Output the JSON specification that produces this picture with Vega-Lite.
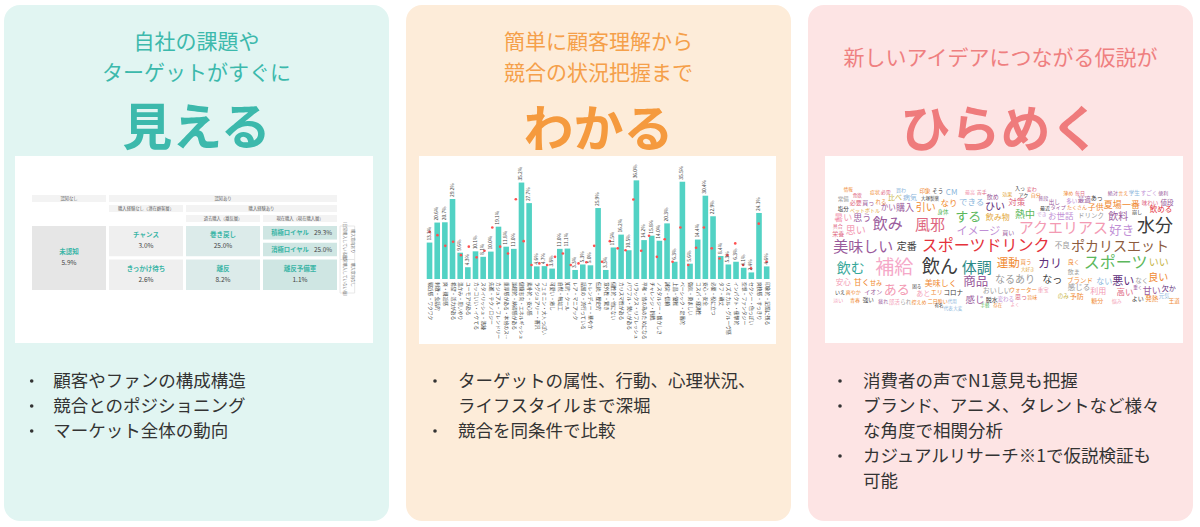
{
"$schema": "https://vega.github.io/schema/vega-lite/v6.json",
"background": "white",
"padding": {"left": 4, "top": 5, "right": 0, "bottom": 0},
"spacing": 17,
"config": {
  "view": {"stroke": null},
  "font": "Noto Sans CJK JP",
  "text": {"font": "Noto Sans CJK JP"},
  "title": {"anchor": "middle", "frame": "group", "orient": "top", "fontSize": 21, "fontWeight": "normal", "lineHeight": 31, "subtitleFontSize": 50, "subtitleFontWeight": "bold", "font": "Noto Sans CJK JP", "subtitleFont": "Noto Sans CJK JP"}
},
"datasets": {
  "frame": [{"part": "image"}],
  "hdr1": [
    {"h": "認知なし", "c0": 0, "c1": 1, "r0": 0, "r1": 1, "cx": 0.5},
    {"h": "認知あり", "c0": 1, "c1": 4, "r0": 0, "r1": 1, "cx": 2.5},
    {"h": "購入経験なし（潜在顧客層）", "c0": 1, "c1": 2, "r0": 1, "r1": 2, "cx": 1.5},
    {"h": "購入経験あり", "c0": 2, "c1": 4, "r0": 1, "r1": 2, "cx": 3},
    {"h": "過去購入（離反層）", "c0": 2, "c1": 3, "r0": 2, "r1": 3, "cx": 2.5},
    {"h": "現在購入（現在購入層）", "c0": 3, "c1": 4, "r0": 2, "r1": 3, "cx": 3.5}
  ],
  "seg1": [
    {"seg": "未認知", "share": 0.059, "c0": 0, "c1": 1, "r0": 0, "r1": 2, "cx": 0.5, "cy": 1, "tone": "unaware", "inline": false},
    {"seg": "チャンス", "share": 0.030, "c0": 1, "c1": 2, "r0": 0, "r1": 1, "cx": 1.5, "cy": 0.5, "tone": "potential", "inline": false},
    {"seg": "きっかけ待ち", "share": 0.026, "c0": 1, "c1": 2, "r0": 1, "r1": 2, "cx": 1.5, "cy": 1.5, "tone": "potential", "inline": false},
    {"seg": "巻き戻し", "share": 0.250, "c0": 2, "c1": 3, "r0": 0, "r1": 1, "cx": 2.5, "cy": 0.5, "tone": "lapsed", "inline": false},
    {"seg": "離反", "share": 0.082, "c0": 2, "c1": 3, "r0": 1, "r1": 2, "cx": 2.5, "cy": 1.5, "tone": "lapsed", "inline": false},
    {"seg": "積極ロイヤル", "share": 0.293, "c0": 3, "c1": 4, "r0": 0, "r1": 0.5, "cx": 3.5, "cy": 0.25, "tone": "current", "inline": true},
    {"seg": "消極ロイヤル", "share": 0.250, "c0": 3, "c1": 4, "r0": 0.5, "r1": 1, "cx": 3.5, "cy": 0.75, "tone": "current", "inline": true},
    {"seg": "離反予備軍", "share": 0.011, "c0": 3, "c1": 4, "r0": 1, "r1": 2, "cx": 3.5, "cy": 1.5, "tone": "current", "inline": false}
  ],
  "intent1": [
    {"c0": 4.02, "c1": 4.21, "r0": 0, "r1": 1},
    {"c0": 4.02, "c1": 4.21, "r0": 1, "r1": 2}
  ],
  "intentText1": [
    {"t": "購入意向あり", "cx": 4.17, "cy": 0.5},
    {"t": "（日常購入している層）", "cx": 4.075, "cy": 0.5},
    {"t": "購入意向なし", "cx": 4.17, "cy": 1.5},
    {"t": "（日常購入していない層）", "cx": 4.075, "cy": 1.5}
  ],
  "bul1": [
    {"line": 0, "bullet": true, "text": "顧客やファンの構成構造"},
    {"line": 1, "bullet": true, "text": "競合とのポジショニング"},
    {"line": 2, "bullet": true, "text": "マーケット全体の動向"}
  ],
  "bul2": [
    {"line": 0, "bullet": true, "text": "ターゲットの属性、行動、心理状況、"},
    {"line": 1, "bullet": false, "text": "ライフスタイルまで深堀"},
    {"line": 2, "bullet": true, "text": "競合を同条件で比較"}
  ],
  "bul3": [
    {"line": 0, "bullet": true, "text": "消費者の声でN1意見も把握"},
    {"line": 1, "bullet": true, "text": "ブランド、アニメ、タレントなど様々"},
    {"line": 2, "bullet": false, "text": "な角度で相関分析"},
    {"line": 3, "bullet": true, "text": "カジュアルリサーチ※1で仮説検証も"},
    {"line": 4, "bullet": false, "text": "可能"}
  ],
  "bars": [
    {"cat": "親近感・ワクワク", "pct": 0.133, "avg": 0.172},
    {"cat": "刺激・会話的", "pct": 0.206, "avg": 0.160},
    {"cat": "爽・親近感", "pct": 0.207, "avg": 0.121},
    {"cat": "希望・活力がある", "pct": 0.292, "avg": 0.136},
    {"cat": "温かみ・思いやり", "pct": 0.096, "avg": 0.087},
    {"cat": "ユーモアがある", "pct": 0.043, "avg": null},
    {"cat": "カッコいい・イケてる", "pct": 0.101, "avg": 0.118},
    {"cat": "スタイリッシュ・洗練", "pct": 0.081, "avg": 0.079},
    {"cat": "先進・テクノロジー", "pct": 0.100, "avg": 0.103},
    {"cat": "カジュアル・フレンドリー", "pct": 0.191, "avg": 0.188},
    {"cat": "重厚感がある・本格のスピリッツ", "pct": 0.118, "avg": 0.118},
    {"cat": "論理的・納得感がある", "pct": 0.110, "avg": 0.093},
    {"cat": "健康志向・エネルギッシュ", "pct": 0.352, "avg": 0.291},
    {"cat": "素朴的・安心感", "pct": 0.277, "avg": 0.138},
    {"cat": "ラグジュアリー・贅沢", "pct": 0.046, "avg": 0.051},
    {"cat": "フェミニン・大人っぽい", "pct": 0.047, "avg": 0.057},
    {"cat": "可愛い・癒し", "pct": 0.038, "avg": 0.051},
    {"cat": "自然・無加工", "pct": 0.110, "avg": 0.081},
    {"cat": "知的・クール", "pct": 0.111, "avg": 0.093},
    {"cat": "レア・マニアック", "pct": 0.033, "avg": 0.051},
    {"cat": "話題の・流行っている", "pct": 0.053, "avg": 0.057},
    {"cat": "トレンディー・華やか", "pct": 0.050, "avg": 0.061},
    {"cat": "伝統・歴史的", "pct": 0.259, "avg": 0.121},
    {"cat": "意外性・驚き", "pct": 0.033, "avg": 0.063},
    {"cat": "個性的・他にない", "pct": 0.115, "avg": 0.138},
    {"cat": "カリスマ性がある", "pct": 0.162, "avg": 0.112},
    {"cat": "パワフル・勢いがある", "pct": 0.105, "avg": 0.105},
    {"cat": "リラックス・リフレッシュ", "pct": 0.360, "avg": 0.290},
    {"cat": "平和・皆の為のためになる", "pct": 0.142, "avg": 0.103},
    {"cat": "チャレンジ・挑戦", "pct": 0.158, "avg": 0.158},
    {"cat": "ノスタルジー・懐かしさ", "pct": 0.140, "avg": 0.081},
    {"cat": "誠実・信頼", "pct": 0.203, "avg": 0.145},
    {"cat": "上品・優雅", "pct": 0.063, "avg": 0.063},
    {"cat": "ベーシック・定番的", "pct": 0.355, "avg": 0.188},
    {"cat": "強気・勇ましい", "pct": 0.056, "avg": 0.051},
    {"cat": "コスパ・経済性", "pct": 0.144, "avg": 0.114},
    {"cat": "安心・安全", "pct": 0.304, "avg": 0.188},
    {"cat": "必要・役に立つ", "pct": 0.229, "avg": 0.112},
    {"cat": "タフ・頑丈", "pct": 0.084, "avg": 0.075},
    {"cat": "リズミカル・グルーヴ感", "pct": 0.053, "avg": 0.087},
    {"cat": "インパクト・衝撃的", "pct": 0.063, "avg": 0.130},
    {"cat": "空想・ファンタジー", "pct": 0.041, "avg": 0.051},
    {"cat": "セクシー・色っぽい", "pct": 0.024, "avg": 0.039},
    {"cat": "爽快感・すっきり", "pct": 0.241, "avg": 0.202},
    {"cat": "印象的・記憶に残る", "pct": 0.046, "avg": 0.063}
  ],
  "words": [
    {"w": "情報", "x": 100, "y": 106, "freq": 45, "grp": "orange"},
    {"w": "食欲", "x": 127, "y": 123, "freq": 45, "grp": "rose"},
    {"w": "症状", "x": 180, "y": 112, "freq": 50, "grp": "orange"},
    {"w": "必需", "x": 212, "y": 112, "freq": 50, "grp": "rose"},
    {"w": "買わ", "x": 258, "y": 105, "freq": 50, "grp": "lblue"},
    {"w": "印象", "x": 330, "y": 108, "freq": 55, "grp": "orange"},
    {"w": "そう", "x": 368, "y": 108, "freq": 55, "grp": "dark"},
    {"w": "CM", "x": 410, "y": 113, "freq": 80, "grp": "lblue"},
    {"w": "最高", "x": 465, "y": 111, "freq": 50, "grp": "pink"},
    {"w": "苦手", "x": 500, "y": 111, "freq": 50, "grp": "rose"},
    {"w": "飲め", "x": 533, "y": 127, "freq": 60, "grp": "purple"},
    {"w": "効果", "x": 577, "y": 118, "freq": 50, "grp": "yellow"},
    {"w": "入っ", "x": 615, "y": 100, "freq": 50, "grp": "dark"},
    {"w": "変わ", "x": 650, "y": 102, "freq": 50, "grp": "rose"},
    {"w": "アク", "x": 625, "y": 119, "freq": 50, "grp": "dark"},
    {"w": "自分", "x": 662, "y": 119, "freq": 50, "grp": "orange"},
    {"w": "薄め", "x": 760, "y": 113, "freq": 50, "grp": "orange"},
    {"w": "毎日", "x": 795, "y": 113, "freq": 50, "grp": "rose"},
    {"w": "絶対", "x": 893, "y": 113, "freq": 50, "grp": "purple"},
    {"w": "言え", "x": 925, "y": 113, "freq": 50, "grp": "orange"},
    {"w": "学生", "x": 958, "y": 113, "freq": 55, "grp": "lblue"},
    {"w": "すごく", "x": 1002, "y": 113, "freq": 55, "grp": "lav"},
    {"w": "便利", "x": 1045, "y": 113, "freq": 50, "grp": "purple"},
    {"w": "常備", "x": 85, "y": 133, "freq": 55, "grp": "gray"},
    {"w": "必要", "x": 122, "y": 145, "freq": 60, "grp": "rose"},
    {"w": "買っ", "x": 160, "y": 145, "freq": 60, "grp": "purple"},
    {"w": "れる", "x": 198, "y": 142, "freq": 55, "grp": "orange"},
    {"w": "比べ", "x": 240, "y": 128, "freq": 70, "grp": "olive"},
    {"w": "病気", "x": 285, "y": 128, "freq": 70, "grp": "lblue"},
    {"w": "大塚製薬", "x": 345, "y": 132, "freq": 45, "grp": "dark"},
    {"w": "なり", "x": 402, "y": 143, "freq": 85, "grp": "orange"},
    {"w": "できる", "x": 470, "y": 142, "freq": 85, "grp": "lblue"},
    {"w": "対策", "x": 605, "y": 141, "freq": 85, "grp": "rose"},
    {"w": "普段", "x": 685, "y": 130, "freq": 50, "grp": "purple"},
    {"w": "出し", "x": 718, "y": 140, "freq": 55, "grp": "purple"},
    {"w": "多い", "x": 770, "y": 137, "freq": 55, "grp": "lav"},
    {"w": "最適", "x": 808, "y": 135, "freq": 65, "grp": "purple"},
    {"w": "あっ", "x": 845, "y": 128, "freq": 60, "grp": "dark"},
    {"w": "夏場", "x": 893, "y": 150, "freq": 90, "grp": "orange"},
    {"w": "一番", "x": 948, "y": 150, "freq": 90, "grp": "orange"},
    {"w": "味わい", "x": 1005, "y": 143, "freq": 55, "grp": "rose"},
    {"w": "値段", "x": 1056, "y": 143, "freq": 65, "grp": "purple"},
    {"w": "塩分", "x": 85, "y": 162, "freq": 55, "grp": "dark"},
    {"w": "ペットボトル", "x": 150, "y": 164, "freq": 50, "grp": "yellow"},
    {"w": "かい", "x": 220, "y": 160, "freq": 75, "grp": "purple"},
    {"w": "購入", "x": 270, "y": 160, "freq": 90, "grp": "purple"},
    {"w": "引い", "x": 332, "y": 160, "freq": 100, "grp": "orange"},
    {"w": "身体", "x": 384, "y": 170, "freq": 55, "grp": "green"},
    {"w": "ひい", "x": 540, "y": 157, "freq": 100, "grp": "dpurple"},
    {"w": "最近", "x": 690, "y": 160, "freq": 50, "grp": "dark"},
    {"w": "タイプ", "x": 730, "y": 157, "freq": 50, "grp": "purple"},
    {"w": "たくさん", "x": 786, "y": 157, "freq": 50, "grp": "orange"},
    {"w": "でき", "x": 680, "y": 176, "freq": 50, "grp": "lav"},
    {"w": "熱中", "x": 630, "y": 180, "freq": 100, "grp": "green"},
    {"w": "子供", "x": 842, "y": 159, "freq": 80, "grp": "orange"},
    {"w": "崩し", "x": 966, "y": 170, "freq": 50, "grp": "dark"},
    {"w": "飲める", "x": 1038, "y": 166, "freq": 75, "grp": "red"},
    {"w": "暑い", "x": 85, "y": 190, "freq": 90, "grp": "pink"},
    {"w": "思う", "x": 142, "y": 190, "freq": 90, "grp": "purple"},
    {"w": "する", "x": 460, "y": 187, "freq": 130, "grp": "green"},
    {"w": "飲み物", "x": 548, "y": 189, "freq": 80, "grp": "yellow"},
    {"w": "お世話", "x": 737, "y": 184, "freq": 85, "grp": "lav"},
    {"w": "ドリンク", "x": 828, "y": 183, "freq": 65, "grp": "gray"},
    {"w": "飲料", "x": 910, "y": 186, "freq": 100, "grp": "purple"},
    {"w": "具合", "x": 68, "y": 212, "freq": 50, "grp": "rose"},
    {"w": "栄養", "x": 70, "y": 238, "freq": 60, "grp": "rose"},
    {"w": "思い", "x": 122, "y": 228, "freq": 100, "grp": "pink"},
    {"w": "飲み", "x": 218, "y": 208, "freq": 150, "grp": "purple"},
    {"w": "風邪", "x": 345, "y": 210, "freq": 150, "grp": "rose"},
    {"w": "イメージ", "x": 490, "y": 230, "freq": 110, "grp": "lav"},
    {"w": "買い", "x": 580, "y": 235, "freq": 60, "grp": "purple"},
    {"w": "アクエリアス", "x": 745, "y": 220, "freq": 150, "grp": "pink"},
    {"w": "好き", "x": 920, "y": 228, "freq": 125, "grp": "lav"},
    {"w": "水分", "x": 1020, "y": 217, "freq": 180, "grp": "dark"},
    {"w": "美味しい", "x": 145, "y": 275, "freq": 150, "grp": "purple"},
    {"w": "定番", "x": 275, "y": 275, "freq": 100, "grp": "dark"},
    {"w": "スポーツドリンク", "x": 512, "y": 273, "freq": 160, "grp": "red"},
    {"w": "不良", "x": 742, "y": 272, "freq": 75, "grp": "gray"},
    {"w": "ポカリスエット", "x": 915, "y": 275, "freq": 140, "grp": "brown"},
    {"w": "飲む", "x": 107, "y": 342, "freq": 140, "grp": "teal"},
    {"w": "補給", "x": 238, "y": 340, "freq": 190, "grp": "lpink"},
    {"w": "飲ん", "x": 375, "y": 340, "freq": 180, "grp": "dark"},
    {"w": "体調", "x": 485, "y": 340, "freq": 150, "grp": "dteal"},
    {"w": "運動", "x": 580, "y": 327, "freq": 115, "grp": "orange"},
    {"w": "買う", "x": 633, "y": 321, "freq": 55, "grp": "orange"},
    {"w": "大好き", "x": 638, "y": 345, "freq": 45, "grp": "yellow"},
    {"w": "カリ", "x": 705, "y": 328, "freq": 120, "grp": "dpurple"},
    {"w": "良く", "x": 776, "y": 320, "freq": 60, "grp": "orange"},
    {"w": "飲ま", "x": 776, "y": 350, "freq": 60, "grp": "gray"},
    {"w": "スポーツ", "x": 902, "y": 325, "freq": 160, "grp": "green"},
    {"w": "いい", "x": 1031, "y": 325, "freq": 100, "grp": "olive"},
    {"w": "安心", "x": 85, "y": 383, "freq": 75, "grp": "pink"},
    {"w": "甘く", "x": 140, "y": 383, "freq": 80, "grp": "orange"},
    {"w": "甘み", "x": 183, "y": 383, "freq": 60, "grp": "orange"},
    {"w": "ある", "x": 245, "y": 405, "freq": 130, "grp": "pink"},
    {"w": "美味しく", "x": 377, "y": 388, "freq": 80, "grp": "orange"},
    {"w": "商品", "x": 482, "y": 381, "freq": 125, "grp": "purple"},
    {"w": "なるあり", "x": 600, "y": 375, "freq": 100, "grp": "gray"},
    {"w": "なっ", "x": 712, "y": 375, "freq": 100, "grp": "dark"},
    {"w": "ブランド", "x": 795, "y": 377, "freq": 65, "grp": "orange"},
    {"w": "ない", "x": 868, "y": 380, "freq": 80, "grp": "lblue"},
    {"w": "悪い", "x": 925, "y": 382, "freq": 110, "grp": "dpurple"},
    {"w": "なく", "x": 980, "y": 378, "freq": 65, "grp": "gray"},
    {"w": "良い", "x": 1030, "y": 370, "freq": 100, "grp": "orange"},
    {"w": "いえ", "x": 75, "y": 410, "freq": 50, "grp": "dark"},
    {"w": "爽やか", "x": 115, "y": 410, "freq": 50, "grp": "orange"},
    {"w": "イオン", "x": 175, "y": 410, "freq": 60, "grp": "purple"},
    {"w": "困る", "x": 305, "y": 397, "freq": 45, "grp": "dark"},
    {"w": "あと", "x": 325, "y": 416, "freq": 70, "grp": "pink"},
    {"w": "エリ", "x": 365, "y": 412, "freq": 60, "grp": "orange"},
    {"w": "コロナ", "x": 415, "y": 415, "freq": 65, "grp": "dark"},
    {"w": "おいしい", "x": 545, "y": 409, "freq": 70, "grp": "gray"},
    {"w": "ウォーター", "x": 625, "y": 405, "freq": 55, "grp": "orange"},
    {"w": "重宝", "x": 685, "y": 405, "freq": 55, "grp": "pink"},
    {"w": "感じる", "x": 792, "y": 400, "freq": 75, "grp": "gray"},
    {"w": "利用", "x": 850, "y": 410, "freq": 80, "grp": "pink"},
    {"w": "高い", "x": 930, "y": 412, "freq": 85, "grp": "rose"},
    {"w": "重く", "x": 968, "y": 398, "freq": 45, "grp": "purple"},
    {"w": "甘い", "x": 1010, "y": 408, "freq": 90, "grp": "purple"},
    {"w": "欠か", "x": 1061, "y": 401, "freq": 70, "grp": "dpurple"},
    {"w": "淡い", "x": 70, "y": 435, "freq": 50, "grp": "pink"},
    {"w": "青春", "x": 120, "y": 435, "freq": 50, "grp": "orange"},
    {"w": "強い", "x": 160, "y": 435, "freq": 55, "grp": "dark"},
    {"w": "疲れ", "x": 205, "y": 437, "freq": 50, "grp": "purple"},
    {"w": "部活", "x": 238, "y": 440, "freq": 55, "grp": "pink"},
    {"w": "られ", "x": 272, "y": 440, "freq": 55, "grp": "gray"},
    {"w": "控えめ", "x": 312, "y": 440, "freq": 50, "grp": "orange"},
    {"w": "二日酔い", "x": 368, "y": 438, "freq": 50, "grp": "orange"},
    {"w": "有名", "x": 372, "y": 453, "freq": 45, "grp": "dark"},
    {"w": "代用", "x": 412, "y": 440, "freq": 45, "grp": "lblue"},
    {"w": "代表", "x": 400, "y": 462, "freq": 45, "grp": "lblue"},
    {"w": "大変", "x": 428, "y": 462, "freq": 45, "grp": "lblue"},
    {"w": "感じ", "x": 480, "y": 436, "freq": 95, "grp": "purple"},
    {"w": "脱水", "x": 530, "y": 435, "freq": 60, "grp": "dark"},
    {"w": "変わる", "x": 572, "y": 433, "freq": 55, "grp": "lav"},
    {"w": "思っ", "x": 618, "y": 425, "freq": 60, "grp": "rose"},
    {"w": "旨味", "x": 652, "y": 425, "freq": 50, "grp": "orange"},
    {"w": "手軽", "x": 510, "y": 453, "freq": 45, "grp": "green"},
    {"w": "存在", "x": 548, "y": 453, "freq": 45, "grp": "orange"},
    {"w": "よく", "x": 600, "y": 449, "freq": 45, "grp": "pink"},
    {"w": "のみ", "x": 745, "y": 422, "freq": 55, "grp": "olive"},
    {"w": "予防", "x": 785, "y": 425, "freq": 70, "grp": "orange"},
    {"w": "糖分", "x": 847, "y": 437, "freq": 60, "grp": "orange"},
    {"w": "悩み", "x": 905, "y": 437, "freq": 50, "grp": "pink"},
    {"w": "よい", "x": 968, "y": 432, "freq": 60, "grp": "dark"},
    {"w": "発熱", "x": 1010, "y": 432, "freq": 65, "grp": "orange"},
    {"w": "元気", "x": 1048, "y": 423, "freq": 55, "grp": "lblue"},
    {"w": "王道", "x": 1078, "y": 437, "freq": 55, "grp": "orange"}
  ]
},
"hconcat": [
  {
    "width": 385, "height": 516,
    "view": {"fill": "#e1f5f2", "cornerRadius": 16, "stroke": null},
    "title": {"text": ["自社の課題や", "ターゲットがすぐに"], "subtitle": "見える", "color": "#3cb9ac", "subtitleColor": "#3cb9ac", "offset": -150, "subtitlePadding": 21},
    "resolve": {"scale": {"x": "independent", "y": "independent", "color": "independent", "size": "independent"}},
    "layer": [
      {"data": {"name": "frame"}, "mark": {"type": "rect", "fill": "white"},
       "encoding": {"x": {"datum": 0, "type": "quantitative", "scale": {"domain": [0, 1], "range": [11, 369]}, "axis": null}, "x2": {"datum": 1},
                    "y": {"datum": 0, "type": "quantitative", "scale": {"domain": [0, 1], "range": [151, 338]}, "axis": null}, "y2": {"datum": 1}}},
      {"data": {"name": "hdr1"}, "mark": {"type": "rect", "fill": "#f3f3f3", "stroke": "white", "strokeWidth": 3},
       "encoding": {"x": {"field": "c0", "type": "quantitative", "scale": {"domain": [0, 4], "range": [26.5, 334.5]}, "axis": null}, "x2": {"field": "c1"},
                    "y": {"field": "r0", "type": "quantitative", "scale": {"domain": [0, 3], "range": [188.5, 218.5]}, "axis": null}, "y2": {"field": "r1"}}},
      {"data": {"name": "hdr1"}, "mark": {"type": "text", "fontSize": 4.3, "color": "#666", "baseline": "middle", "dy": 5},
       "encoding": {"x": {"field": "cx", "type": "quantitative", "scale": {"domain": [0, 4], "range": [26.5, 334.5]}, "axis": null},
                    "y": {"field": "r0", "type": "quantitative", "scale": {"domain": [0, 3], "range": [188.5, 218.5]}, "axis": null},
                    "text": {"field": "h"}}},
      {"data": {"name": "seg1"}, "mark": {"type": "rect", "stroke": "white", "strokeWidth": 3},
       "encoding": {"x": {"field": "c0", "type": "quantitative", "scale": {"domain": [0, 4], "range": [26.5, 334.5]}, "axis": null}, "x2": {"field": "c1"},
                    "y": {"field": "r0", "type": "quantitative", "scale": {"domain": [0, 2], "range": [219.5, 286.5]}, "axis": null}, "y2": {"field": "r1"},
                    "color": {"field": "tone", "type": "nominal", "scale": {"domain": ["unaware", "potential", "lapsed", "current"], "range": ["#e6e6e6", "#efefef", "#dcebea", "#cfe6e3"]}, "legend": null}}},
      {"data": {"name": "seg1"}, "transform": [{"filter": "!datum.inline"}],
       "mark": {"type": "text", "fontSize": 6.5, "fontWeight": "bold", "color": "#3ab5a6", "baseline": "middle", "dy": -6},
       "encoding": {"x": {"field": "cx", "type": "quantitative", "scale": {"domain": [0, 4], "range": [26.5, 334.5]}, "axis": null},
                    "y": {"field": "cy", "type": "quantitative", "scale": {"domain": [0, 2], "range": [219.5, 286.5]}, "axis": null},
                    "text": {"field": "seg"}}},
      {"data": {"name": "seg1"}, "transform": [{"filter": "!datum.inline"}],
       "mark": {"type": "text", "fontSize": 6.5, "color": "#444", "baseline": "middle", "dy": 5},
       "encoding": {"x": {"field": "cx", "type": "quantitative", "scale": {"domain": [0, 4], "range": [26.5, 334.5]}, "axis": null},
                    "y": {"field": "cy", "type": "quantitative", "scale": {"domain": [0, 2], "range": [219.5, 286.5]}, "axis": null},
                    "text": {"field": "share", "format": ".1%"}}},
      {"data": {"name": "seg1"}, "transform": [{"filter": "datum.inline"}],
       "mark": {"type": "text", "fontSize": 6.3, "fontWeight": "bold", "color": "#3ab5a6", "baseline": "middle", "dx": -10},
       "encoding": {"x": {"field": "cx", "type": "quantitative", "scale": {"domain": [0, 4], "range": [26.5, 334.5]}, "axis": null},
                    "y": {"field": "cy", "type": "quantitative", "scale": {"domain": [0, 2], "range": [219.5, 286.5]}, "axis": null},
                    "text": {"field": "seg"}}},
      {"data": {"name": "seg1"}, "transform": [{"filter": "datum.inline"}],
       "mark": {"type": "text", "fontSize": 6.3, "color": "#444", "baseline": "middle", "dx": 23},
       "encoding": {"x": {"field": "cx", "type": "quantitative", "scale": {"domain": [0, 4], "range": [26.5, 334.5]}, "axis": null},
                    "y": {"field": "cy", "type": "quantitative", "scale": {"domain": [0, 2], "range": [219.5, 286.5]}, "axis": null},
                    "text": {"field": "share", "format": ".1%"}}},
      {"data": {"name": "intent1"}, "mark": {"type": "rect", "fill": "white", "stroke": "#e2e2e2", "strokeWidth": 0.8},
       "encoding": {"x": {"field": "c0", "type": "quantitative", "scale": {"domain": [0, 4], "range": [26.5, 334.5]}, "axis": null}, "x2": {"field": "c1"},
                    "y": {"field": "r0", "type": "quantitative", "scale": {"domain": [0, 2], "range": [221, 288]}, "axis": null}, "y2": {"field": "r1"}}},
      {"data": {"name": "intentText1"}, "mark": {"type": "text", "fontSize": 4, "color": "#777", "angle": 90, "baseline": "middle", "align": "center"},
       "encoding": {"x": {"field": "cx", "type": "quantitative", "scale": {"domain": [0, 4], "range": [26.5, 334.5]}, "axis": null},
                    "y": {"field": "cy", "type": "quantitative", "scale": {"domain": [0, 2], "range": [219.5, 286.5]}, "axis": null},
                    "text": {"field": "t"}}},
      {"data": {"name": "bul1"}, "transform": [{"filter": "datum.bullet"}], "mark": {"type": "circle", "size": 13, "color": "#333", "opacity": 1},
       "encoding": {"x": {"datum": 0, "type": "quantitative", "scale": {"domain": [0, 1], "range": [27.7, 49.3]}, "axis": null},
                    "y": {"field": "line", "type": "quantitative", "scale": {"domain": [0, 4], "range": [376, 476]}, "axis": null}}},
      {"data": {"name": "bul1"}, "mark": {"type": "text", "align": "left", "baseline": "middle", "fontSize": 17.5, "color": "#333"},
       "encoding": {"x": {"datum": 1, "type": "quantitative", "scale": {"domain": [0, 1], "range": [27.7, 49.3]}, "axis": null},
                    "y": {"field": "line", "type": "quantitative", "scale": {"domain": [0, 4], "range": [377.4, 477.4]}, "axis": null},
                    "text": {"field": "text"}}}
    ]
  },
  {
    "width": 385, "height": 516,
    "view": {"fill": "#fdecd9", "cornerRadius": 16, "stroke": null},
    "title": {"text": ["簡単に顧客理解から", "競合の状況把握まで"], "subtitle": "わかる", "color": "#f5a04a", "subtitleColor": "#f59a3e", "offset": -152, "subtitlePadding": 23},
    "resolve": {"scale": {"x": "independent", "y": "independent", "color": "independent", "size": "independent"}},
    "layer": [
      {"data": {"name": "frame"}, "mark": {"type": "rect", "fill": "white"},
       "encoding": {"x": {"datum": 0, "type": "quantitative", "scale": {"domain": [0, 1], "range": [13, 370]}, "axis": null}, "x2": {"datum": 1},
                    "y": {"datum": 0, "type": "quantitative", "scale": {"domain": [0, 1], "range": [151, 339]}, "axis": null}, "y2": {"datum": 1}}},
      {"data": {"name": "bars"}, "mark": {"type": "bar", "color": "#52d2c4"},
       "encoding": {"x": {"field": "cat", "type": "nominal", "sort": null, "scale": {"range": [19.7, 364.5], "paddingInner": 0.27, "paddingOuter": 0.135}, "axis": null},
                    "y": {"field": "pct", "type": "quantitative", "scale": {"domain": [0, 0.4], "range": [274, 164.4]}, "axis": null}}},
      {"data": {"name": "bars"}, "mark": {"type": "point", "filled": true, "color": "#ff5050", "size": 7, "opacity": 1},
       "encoding": {"x": {"field": "cat", "type": "nominal", "sort": null, "scale": {"range": [19.7, 364.5], "paddingInner": 0.27, "paddingOuter": 0.135}, "axis": null},
                    "y": {"field": "avg", "type": "quantitative", "scale": {"domain": [0, 0.4], "range": [274, 164.4]}, "axis": null}}},
      {"data": {"name": "bars"}, "mark": {"type": "text", "angle": 270, "align": "left", "baseline": "middle", "dx": 2, "fontSize": 4.8, "color": "#444"},
       "encoding": {"x": {"field": "cat", "type": "nominal", "sort": null, "scale": {"range": [19.7, 364.5], "paddingInner": 0.27, "paddingOuter": 0.135}, "axis": null},
                    "y": {"field": "pct", "type": "quantitative", "scale": {"domain": [0, 0.4], "range": [274, 164.4]}, "axis": null},
                    "text": {"field": "pct", "format": ".1%"}}},
      {"data": {"name": "bars"}, "mark": {"type": "text", "angle": 90, "align": "left", "baseline": "middle", "dx": 3, "fontSize": 4.8, "color": "#444", "limit": 58},
       "encoding": {"x": {"field": "cat", "type": "nominal", "sort": null, "scale": {"range": [19.7, 364.5], "paddingInner": 0.27, "paddingOuter": 0.135}, "axis": null},
                    "y": {"datum": 0, "type": "quantitative", "scale": {"domain": [0, 0.4], "range": [274, 164.4]}, "axis": null},
                    "text": {"field": "cat"}}},
      {"data": {"name": "bul2"}, "transform": [{"filter": "datum.bullet"}], "mark": {"type": "circle", "size": 13, "color": "#333", "opacity": 1},
       "encoding": {"x": {"datum": 0, "type": "quantitative", "scale": {"domain": [0, 1], "range": [29, 52]}, "axis": null},
                    "y": {"field": "line", "type": "quantitative", "scale": {"domain": [0, 4], "range": [376, 476]}, "axis": null}}},
      {"data": {"name": "bul2"}, "mark": {"type": "text", "align": "left", "baseline": "middle", "fontSize": 17.5, "color": "#333"},
       "encoding": {"x": {"datum": 1, "type": "quantitative", "scale": {"domain": [0, 1], "range": [29, 52]}, "axis": null},
                    "y": {"field": "line", "type": "quantitative", "scale": {"domain": [0, 4], "range": [377.4, 477.4]}, "axis": null},
                    "text": {"field": "text"}}}
    ]
  },
  {
    "width": 385, "height": 516,
    "view": {"fill": "#fde4e4", "cornerRadius": 16, "stroke": null},
    "title": {"text": "新しいアイデアにつながる仮説が", "subtitle": "ひらめく", "color": "#ef7f80", "subtitleColor": "#ef7b7c", "offset": -152, "subtitlePadding": 38},
    "resolve": {"scale": {"x": "independent", "y": "independent", "color": "independent", "size": "independent"}},
    "layer": [
      {"data": {"name": "frame"}, "mark": {"type": "rect", "fill": "white"},
       "encoding": {"x": {"datum": 0, "type": "quantitative", "scale": {"domain": [0, 1], "range": [17, 375]}, "axis": null}, "x2": {"datum": 1},
                    "y": {"datum": 0, "type": "quantitative", "scale": {"domain": [0, 1], "range": [151, 338]}, "axis": null}, "y2": {"datum": 1}}},
      {"data": {"name": "words"}, "mark": {"type": "text", "align": "center", "baseline": "middle"},
       "encoding": {"x": {"field": "x", "type": "quantitative", "scale": {"domain": [0, 1110], "range": [7, 377]}, "axis": null},
                    "y": {"field": "y", "type": "quantitative", "scale": {"domain": [0, 570], "range": [150, 340]}, "axis": null},
                    "text": {"field": "w"},
                    "size": {"field": "freq", "type": "quantitative", "scale": {"domain": [0, 200], "range": [0, 20]}, "legend": null},
                    "color": {"field": "grp", "type": "nominal", "legend": null,
                              "scale": {"domain": ["purple", "rose", "pink", "dark", "lav", "green", "red", "brown", "teal", "lpink", "orange", "dpurple", "olive", "gray", "lblue", "yellow", "dteal"],
                                        "range": ["#9a5b9c", "#de6680", "#f39ab3", "#3b3b3b", "#bf8fd6", "#5cb85c", "#e5323b", "#8c5b3d", "#35a799", "#f5a8c8", "#f08a32", "#5f2f7a", "#c7b64b", "#9a9a9a", "#8cb7dc", "#e3a73a", "#2e8b87"]}}}},
      {"data": {"name": "bul3"}, "transform": [{"filter": "datum.bullet"}], "mark": {"type": "circle", "size": 13, "color": "#333", "opacity": 1},
       "encoding": {"x": {"datum": 0, "type": "quantitative", "scale": {"domain": [0, 1], "range": [32, 55]}, "axis": null},
                    "y": {"field": "line", "type": "quantitative", "scale": {"domain": [0, 4], "range": [376, 476]}, "axis": null}}},
      {"data": {"name": "bul3"}, "mark": {"type": "text", "align": "left", "baseline": "middle", "fontSize": 17.5, "color": "#333"},
       "encoding": {"x": {"datum": 1, "type": "quantitative", "scale": {"domain": [0, 1], "range": [32, 55]}, "axis": null},
                    "y": {"field": "line", "type": "quantitative", "scale": {"domain": [0, 4], "range": [377.4, 477.4]}, "axis": null},
                    "text": {"field": "text"}}}
    ]
  }
]
}
